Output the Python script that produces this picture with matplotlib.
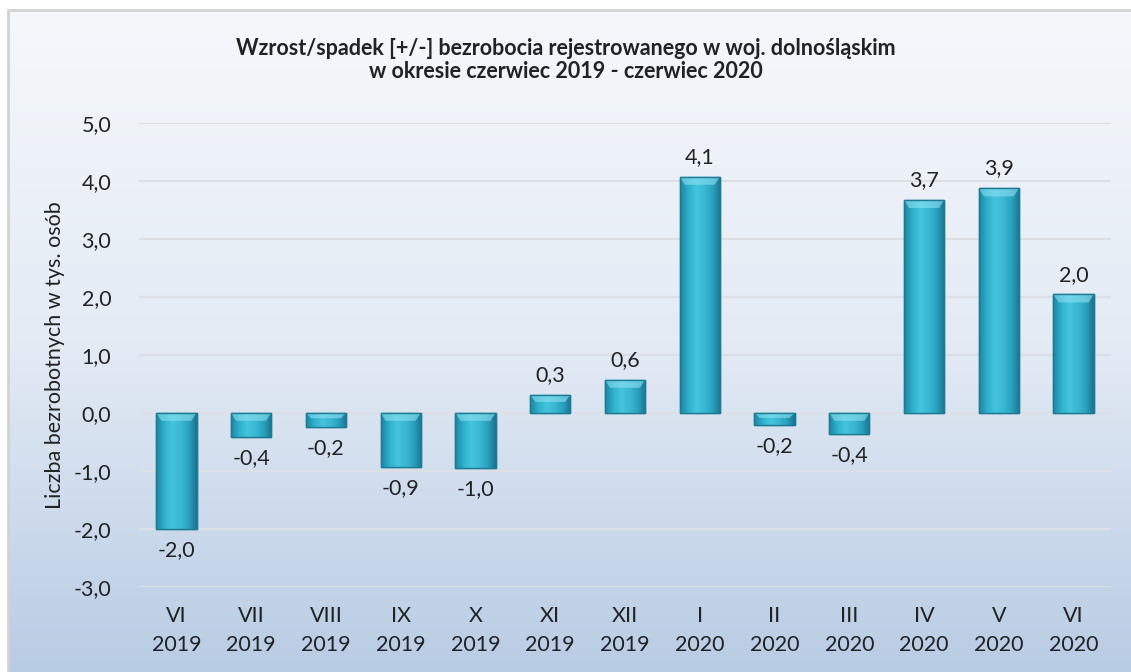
import matplotlib.pyplot as plt
import numpy as np
from matplotlib.colors import LinearSegmentedColormap
from matplotlib.patches import Rectangle

# ---------------------------------------------------------------------------
# Data
# ---------------------------------------------------------------------------

months = ["VI", "VII", "VIII", "IX", "X", "XI", "XII", "I", "II", "III", "IV", "V", "VI"]
years = ["2019"] * 7 + ["2020"] * 6
values = [-2.01, -0.42, -0.24, -0.94, -0.96, 0.31, 0.57, 4.07, -0.22, -0.36, 3.67, 3.87, 2.04]

title = ("Wzrost/spadek [+/-] bezrobocia rejestrowanego w woj. dolnośląskim\n"
         "w okresie czerwiec 2019 - czerwiec 2020")
ylabel = "Liczba bezrobotnych w tys. osób"
yticks = np.arange(-3, 6, 1)

FONT = "Lato"
TXT = "#222222"

# ---------------------------------------------------------------------------
# Figure and background
# ---------------------------------------------------------------------------

fig = plt.figure(figsize=(11.31, 6.72), dpi=100)
fig.patch.set_facecolor("white")

bg = fig.add_axes([0, 0, 1, 1], zorder=-10)
bg.set_axis_off()
bg_cmap = LinearSegmentedColormap.from_list("bg", ["#f5f8fb", "#e4ebf5", "#b8cce4"])
grad = np.linspace(0, 1, 256).reshape(-1, 1)
bg.imshow(grad, cmap=bg_cmap, aspect="auto", extent=[8 / 1131, 1, 0, 1 - 10 / 672],
          origin="upper", vmin=0, vmax=1)
bg.add_patch(Rectangle((8 / 1131, -0.01), 1.0, 1 - 10 / 672 + 0.01, fill=False,
                       edgecolor="#d2d2d2", linewidth=2))
bg.set_xlim(0, 1)
bg.set_ylim(0, 1)

ax = fig.add_axes([139 / 1131, 1 - 586.7 / 672, (1111 - 139) / 1131, (586.7 - 122.7) / 672])
ax.patch.set_alpha(0)

x = np.arange(len(values))
bars = ax.bar(x, values, width=0.54, color="#33b0cc", edgecolor="#1f7f98",
              linewidth=1.0, zorder=3)

# horizontal shading inside each bar, with a lighter bevel along the top edge
bar_cmap = LinearSegmentedColormap.from_list(
    "bar", ["#1c86a2", "#2fb0cc", "#45c4de", "#3ab8d3", "#2aa2bf", "#1a7590"])
hgrad = np.linspace(0, 1, 64).reshape(1, -1)
for b, v in zip(bars, values):
    x0, w = b.get_x(), b.get_width()
    y0, y1 = min(0, v), max(0, v)
    im = ax.imshow(hgrad, cmap=bar_cmap, aspect="auto", extent=[x0, x0 + w, y0, y1],
                   zorder=4, interpolation="bicubic")
    im.set_clip_path(b)
    cap = min(0.14, abs(v) * 0.4)
    ax.fill([x0, x0 + w, x0 + w - 0.07, x0 + 0.07],
            [y1, y1, y1 - cap, y1 - cap],
            color="#8ee2f2", alpha=0.6, zorder=5, linewidth=0)
    ax.add_patch(Rectangle((x0, y0), w, y1 - y0, fill=False, edgecolor="#1f7a93",
                           linewidth=1.0, zorder=6))

for xi, v in zip(x, values):
    lab = f"{v:.1f}".replace(".", ",")
    if v >= 0:
        ax.annotate(lab, (xi, v), xytext=(0, 7), textcoords="offset points",
                    ha="center", va="bottom", fontsize=15.5, family=FONT, color=TXT)
    else:
        ax.annotate(lab, (xi, v), xytext=(0, -8), textcoords="offset points",
                    ha="center", va="top", fontsize=15.5, family=FONT, color=TXT)

ax.set_xlim(-0.5, len(values) - 0.5)
ax.set_ylim(-3, 5)
ax.set_yticks(yticks)
ax.set_yticklabels([f"{t:.1f}".replace(".", ",") for t in yticks])
ax.set_xticks(x)
ax.set_xticklabels([f"{m}\n{y}" for m, y in zip(months, years)], linespacing=1.55)
ax.tick_params(length=0, labelsize=15.5, colors=TXT)
ax.tick_params(axis="y", pad=20)
ax.tick_params(axis="x", pad=14)
for lab in ax.get_xticklabels() + ax.get_yticklabels():
    lab.set_family(FONT)

ax.grid(axis="y", color="#dcdfe3", linewidth=1.6, zorder=0)
for s in ax.spines.values():
    s.set_visible(False)

ax.set_ylabel(ylabel, fontsize=15.5, family=FONT, color=TXT)
ax.yaxis.set_label_coords(-74 / 972, 0.5)

fig.text(0.5, 1 - 60 / 672, title, ha="center", va="center", fontsize=15.5,
         fontweight="bold", family=FONT, color=TXT, linespacing=1.1)

plt.savefig("out.png", dpi=100)
